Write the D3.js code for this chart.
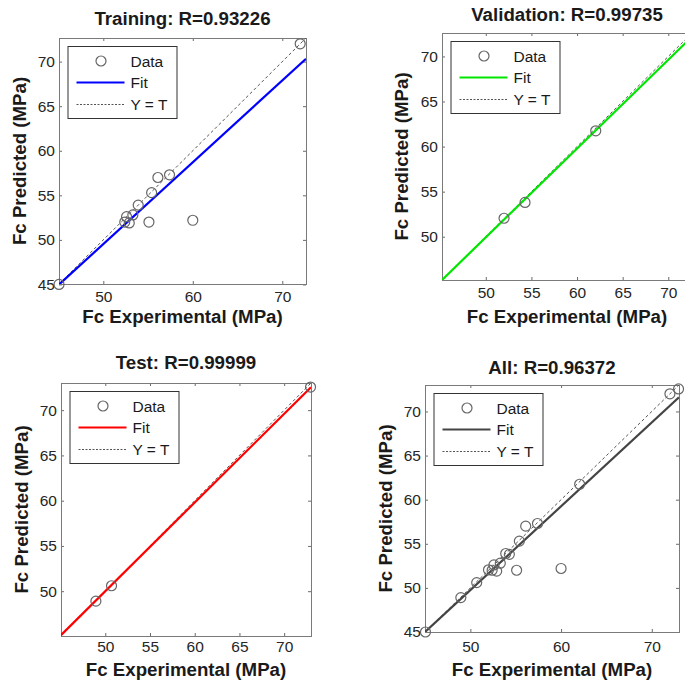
<!DOCTYPE html>
<html>
<head>
<meta charset="utf-8">
<script src="https://cdn.jsdelivr.net/npm/d3@7/dist/d3.min.js"></script>
<style>
  body { margin: 0; background: #fff; }
  svg { display: block; font-family: "Liberation Sans", Arial, sans-serif; }
</style>
</head>
<body>
<div id="app"></div>
<script>
// values
var trainX = [45.05, 52.4, 52.6, 52.9, 53.3, 53.9, 55.1, 55.4, 56.1, 57.4, 60.0, 72.0];
var trainY = [45.0, 52.0, 52.6, 51.9, 52.8, 53.9, 52.0, 55.3, 57.0, 57.3, 52.2, 72.0];
var valX = [52.0, 54.3, 62.05];
var valY = [52.05, 53.8, 61.75];
var testX = [48.95, 50.7, 72.95];
var testY = [48.9, 50.6, 72.55];
var allX = trainX.concat(valX, testX);
var allY = trainY.concat(valY, testY);

var titles = ["Training: R=0.93226", "Validation: R=0.99735", "Test: R=0.99999", "All: R=0.96372"];
var fitSlope = [0.918, 0.985, 0.98, 0.95];
var fitIntercept = [3.63, 0.68, 1.0, 2.25];
var fitColor = ["#0000ff", "#00e600", "#ff0000", "#444444"];
var axisMin = [45.05, 45.2, 45.05, 45.0];
var axisMax = [72.65, 72.6, 73.0, 73.0];
var xTicks = [[50, 60, 70], [50, 55, 60, 65, 70], [50, 55, 60, 65, 70], [50, 60, 70]];
var yTicks = [[45, 50, 55, 60, 65, 70], [50, 55, 60, 65, 70], [50, 55, 60, 65, 70], [45, 50, 55, 60, 65, 70]];
var legendLabels = ["Data", "Fit", "Y = T"];

// layout of each panel on the page
var layout = [
  {x: 59, y: 38, w: 247, h: 246, titleY: 25, xPad: 7, xLabY: 323, yLabX: 26},
  {x: 442, y: 33, w: 250, h: 247, titleY: 21, xPad: 7, xLabY: 323, yLabX: 408},
  {x: 61, y: 383, w: 250, h: 253, titleY: 369, xPad: 5, xLabY: 676, yLabX: 28},
  {x: 425, y: 385, w: 254, h: 247, titleY: 374, xPad: 9, xLabY: 676, yLabX: 392}
];
var pointsX = [trainX, valX, testX, allX];
var pointsY = [trainY, valY, testY, allY];

var svg = d3.select("#app").append("svg")
  .attr("width", 685)
  .attr("height", 686);

layout.forEach(function(p, i) {
  var x = d3.scaleLinear().domain([axisMin[i], axisMax[i]]).range([p.x, p.x + p.w]);
  var y = d3.scaleLinear().domain([axisMin[i], axisMax[i]]).range([p.y + p.h, p.y]);

  svg.append("clipPath").attr("id", "clip" + i)
    .append("rect").attr("x", p.x).attr("y", p.y).attr("width", p.w).attr("height", p.h);

  var g = svg.append("g");

  // axes with inside ticks on all four sides
  g.append("g").attr("transform", "translate(0," + (p.y + p.h) + ")")
    .call(d3.axisBottom(x).tickValues(xTicks[i]).tickSize(-3).tickSizeOuter(0).tickPadding(p.xPad));
  g.append("g").attr("transform", "translate(" + p.x + ",0)")
    .call(d3.axisLeft(y).tickValues(yTicks[i]).tickSize(-3).tickSizeOuter(0).tickPadding(4));
  g.append("g").attr("transform", "translate(0," + p.y + ")")
    .call(d3.axisTop(x).tickValues(xTicks[i]).tickSize(-3).tickSizeOuter(0).tickFormat(""));
  g.append("g").attr("transform", "translate(" + (p.x + p.w) + ",0)")
    .call(d3.axisRight(y).tickValues(yTicks[i]).tickSize(-3).tickSizeOuter(0).tickFormat(""));

  g.selectAll(".domain").remove();
  g.selectAll(".tick line").attr("stroke", "#6a6a6a");
  g.selectAll(".tick text").attr("fill", "#262626").style("font-size", "15.5px");

  g.append("rect")
    .attr("x", p.x + 0.5).attr("y", p.y + 0.5)
    .attr("width", p.w).attr("height", p.h)
    .attr("fill", "none").attr("stroke", "#7a7a7a").attr("stroke-width", 1);

  var plot = g.append("g").attr("clip-path", "url(#clip" + i + ")");

  // Y = T
  plot.append("line")
    .attr("x1", x(axisMin[i])).attr("y1", y(axisMin[i]))
    .attr("x2", x(axisMax[i])).attr("y2", y(axisMax[i]))
    .attr("stroke", "#555").attr("stroke-width", 1)
    .attr("stroke-dasharray", "3,2.5");

  // fit
  plot.append("line")
    .attr("x1", x(axisMin[i])).attr("y1", y(fitSlope[i] * axisMin[i] + fitIntercept[i]))
    .attr("x2", x(axisMax[i])).attr("y2", y(fitSlope[i] * axisMax[i] + fitIntercept[i]))
    .attr("stroke", fitColor[i]).attr("stroke-width", 2.2);

  // data
  g.selectAll("circle.pt")
    .data(d3.zip(pointsX[i], pointsY[i]))
    .enter().append("circle")
    .attr("class", "pt")
    .attr("cx", function(d) { return x(d[0]); })
    .attr("cy", function(d) { return y(d[1]); })
    .attr("r", 5)
    .attr("fill", "none")
    .attr("stroke", "#666")
    .attr("stroke-width", 1.2);

  // title and labels
  g.append("text")
    .attr("x", p.x + p.w / 2).attr("y", p.titleY)
    .attr("text-anchor", "middle")
    .style("font-size", "18.7px").style("font-weight", "bold").attr("fill", "#1a1a1a")
    .text(titles[i]);

  g.append("text")
    .attr("x", p.x + p.w / 2).attr("y", p.xLabY)
    .attr("text-anchor", "middle")
    .style("font-size", "18.7px").style("font-weight", "bold").attr("fill", "#1a1a1a")
    .text("Fc Experimental (MPa)");

  g.append("text")
    .attr("transform", "translate(" + p.yLabX + "," + (p.y + p.h / 2) + ") rotate(-90)")
    .attr("text-anchor", "middle")
    .style("font-size", "18.7px").style("font-weight", "bold").attr("fill", "#1a1a1a")
    .text("Fc Predicted (MPa)");

  // legend
  var lx = p.x + 8.5, ly = p.y + 8;
  var leg = g.append("g");
  leg.append("rect")
    .attr("x", lx + 0.5).attr("y", ly + 0.5).attr("width", 109).attr("height", 72)
    .attr("fill", "#fff").attr("stroke", "#333").attr("stroke-width", 1);
  leg.append("circle")
    .attr("cx", lx + 33.5).attr("cy", ly + 15).attr("r", 5)
    .attr("fill", "none").attr("stroke", "#666").attr("stroke-width", 1.2);
  leg.append("line")
    .attr("x1", lx + 9).attr("x2", lx + 57).attr("y1", ly + 36.5).attr("y2", ly + 36.5)
    .attr("stroke", fitColor[i]).attr("stroke-width", 2.2);
  leg.append("line")
    .attr("x1", lx + 9).attr("x2", lx + 57).attr("y1", ly + 58.5).attr("y2", ly + 58.5)
    .attr("stroke", "#555").attr("stroke-width", 1).attr("stroke-dasharray", "2,1.5");
  leg.selectAll("text")
    .data(legendLabels)
    .enter().append("text")
    .attr("x", lx + 63)
    .attr("y", function(d, k) { return ly + 20.5 + k * 21.8; })
    .style("font-size", "15.5px").attr("fill", "#1a1a1a")
    .text(function(d) { return d; });
});
</script>
</body>
</html>
